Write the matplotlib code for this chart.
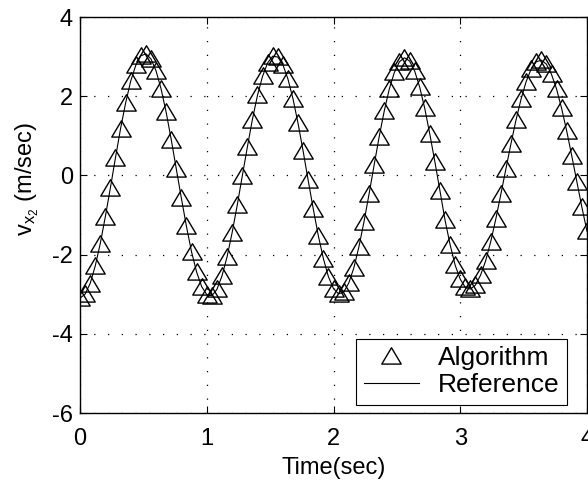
import matplotlib
matplotlib.use('Agg')
import matplotlib.pyplot as plt
from matplotlib.path import Path

plt.rcParams['font.family'] = ['Liberation Sans', 'DejaVu Sans']
plt.rcParams['mathtext.fontset'] = 'custom'
plt.rcParams['mathtext.rm'] = 'Liberation Sans'
plt.rcParams['mathtext.it'] = 'Liberation Sans'
plt.rcParams['axes.unicode_minus'] = False

# sample times (sec), step 0.04
time = [round(0.04 * i, 2) for i in range(101)]

# velocity v_x2 (m/sec)
vel = [
    -3.10, -3.00, -2.73, -2.29, -1.72, -1.04, -0.31, 0.45, 1.18, 1.83,
    2.38, 2.78, 3.02, 3.07, 2.94, 2.64, 2.18, 1.59, 0.90, 0.16,
    -0.58, -1.29, -1.93, -2.44, -2.81, -3.01, -3.04, -2.88, -2.54, -2.06,
    -1.45, -0.76, -0.02, 0.71, 1.41, 2.02, 2.50, 2.84, 3.01, 2.99,
    2.80, 2.44, 1.94, 1.32, 0.62, -0.12, -0.84, -1.52, -2.10, -2.56,
    -2.86, -2.99, -2.95, -2.72, -2.34, -1.81, -1.18, -0.48, 0.25, 0.97,
    1.62, 2.18, 2.60, 2.87, 2.97, 2.89, 2.64, 2.23, 1.69, 1.04,
    0.34, -0.39, -1.13, -1.75, -2.27, -2.62, -2.83, -2.87, -2.77, -2.52,
    -2.16, -1.68, -1.11, -0.48, 0.16, 0.80, 1.40, 1.93, 2.37, 2.69,
    2.87, 2.91, 2.81, 2.55, 2.18, 1.69, 1.12, 0.49, -0.16, -0.81,
    -1.41,
]

xticks = [0, 1, 2, 3, 4]
yticks = [-6, -4, -2, 0, 2, 4]

fig = plt.figure(figsize=(5.88, 4.83), dpi=100)
ax = fig.add_axes([80 / 588, 70 / 483, 507 / 588, 396 / 483])

# hollow triangle, a bit wider than tall like the original
tri = Path([(-1, -0.78), (1, -0.78), (0, 0.9), (-1, -0.78)], closed=True)
ax.plot(time, vel, color='k', lw=0.8, label='Reference', zorder=2)
ax.plot(time, vel, ls='none', marker=tri, ms=14, mfc='none', mec='k',
        mew=1.0, label='Algorithm', zorder=3)

ax.set_xlim(0, 4)
ax.set_ylim(-6, 4)
ax.set_xticks(xticks)
ax.set_yticks(yticks)
ax.grid(True, color='k', linestyle=(0, (1, 10)), linewidth=0.9)
ax.tick_params(direction='in', top=True, right=True, length=5,
               labelsize=17, width=0.8)
ax.tick_params(axis='x', pad=11)
ax.tick_params(axis='y', pad=5)
for s in ax.spines.values():
    s.set_linewidth(1.0)

ax.set_xlabel('Time(sec)', fontsize=17, va='center')
ax.xaxis.set_label_coords(0.5, -0.139)
ax.set_ylabel(r'v$_{\mathregular{x}_{\mathregular{2}}}$ (m/sec)', fontsize=17,
              va='center')
ax.yaxis.set_label_coords(-0.105, 0.59)

h, l = ax.get_legend_handles_labels()
leg = ax.legend(h[::-1], l[::-1], loc='lower right',
                bbox_to_anchor=(567 / 588, 78 / 483),
                bbox_transform=fig.transFigure, borderaxespad=0,
                fontsize=19, frameon=True, fancybox=False, edgecolor='k',
                framealpha=1, handlelength=2.1, handletextpad=0.7,
                borderpad=0.3, labelspacing=0.1)
leg.get_frame().set_linewidth(0.8)

fig.savefig('out.png', dpi=100)
